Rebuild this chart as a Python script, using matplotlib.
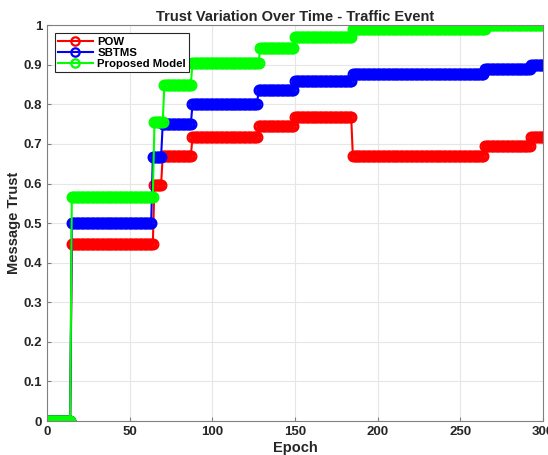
import numpy as np
import matplotlib
matplotlib.use("Agg")
import matplotlib.pyplot as plt

# Step data: start epochs of each level and the level values
epochs = np.arange(0, 301)
pow_starts = [0, 15, 65, 70, 88, 128, 150, 185, 265, 293]
pow_levels = [0, 0.447, 0.597, 0.670, 0.717, 0.745, 0.767, 0.670, 0.695, 0.717]
sbtms_starts = [0, 15, 64, 70, 88, 128, 150, 185, 265, 293]
sbtms_levels = [0, 0.500, 0.667, 0.750, 0.800, 0.835, 0.858, 0.876, 0.889, 0.900]
prop_starts = [0, 15, 65, 71, 88, 129, 150, 185, 266]
prop_levels = [0, 0.567, 0.755, 0.850, 0.905, 0.943, 0.970, 0.990, 1.000]

def expand(starts, levels):
    idx = np.searchsorted(starts, epochs, side="right") - 1
    return np.asarray(levels)[idx]

pow_vals = expand(pow_starts, pow_levels)
sbtms_vals = expand(sbtms_starts, sbtms_levels)
prop_vals = expand(prop_starts, prop_levels)

plt.rcParams['font.family'] = ['Liberation Sans', 'DejaVu Sans']
fig = plt.figure(figsize=(5.48, 4.55), dpi=100)
ax = fig.add_axes([0.0858, 0.0747, 0.905, 0.870])

kw = dict(marker='o', markersize=7, markerfacecolor='none', markeredgewidth=1.6, linewidth=1.5)
ax.plot(epochs, pow_vals, color='#ff0000', label='POW', **kw)
ax.plot(epochs, sbtms_vals, color='#0000ff', label='SBTMS', **kw)
ax.plot(epochs, prop_vals, color='#00ff00', label='Proposed Model', **kw)

ax.set_xlim(0, 300)
ax.set_ylim(0, 1)
ax.set_xticks(np.arange(0, 301, 50))
ax.set_yticks(np.arange(0, 1.01, 0.1))
ax.set_yticklabels(['0', '0.1', '0.2', '0.3', '0.4', '0.5', '0.6', '0.7', '0.8', '0.9', '1'])
ax.grid(True, color='#e6e6e6', linewidth=0.8)
ax.set_axisbelow(True)
for s in ax.spines.values():
    s.set_color('#808080')
    s.set_linewidth(0.8)
ax.tick_params(direction='in', length=3, colors='#808080', labelcolor='#262626', labelsize=9.5)
for lab in ax.get_xticklabels() + ax.get_yticklabels():
    lab.set_fontweight('bold')

ax.set_title('Trust Variation Over Time - Traffic Event', fontsize=10.5, fontweight='bold', color='#262626', pad=3)
ax.set_xlabel('Epoch', fontsize=10.5, fontweight='bold', color='#262626', labelpad=2)
ax.set_ylabel('Message Trust', fontsize=10.5, fontweight='bold', color='#262626', labelpad=2)

leg = ax.legend(loc='upper left', prop={'weight': 'bold', 'size': 8.2},
                handlelength=3, borderaxespad=0.7, fancybox=False, framealpha=1,
                edgecolor='#262626', labelspacing=0.1, borderpad=0.3, handletextpad=0.4)
leg.get_frame().set_linewidth(0.8)
for h in leg.legend_handles:
    h.set_markersize(6)

fig.savefig('out.png', dpi=100)
